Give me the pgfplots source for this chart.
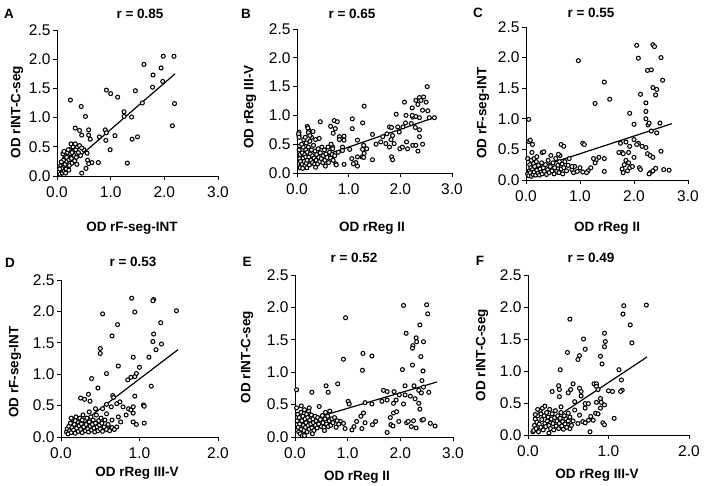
\documentclass[border=0pt]{standalone}
\usepackage{fontspec}
\setmainfont{Liberation Sans}
\usepackage{pgfplots}
\pgfplotsset{compat=1.18}
\pgfplotsset{
  panel/.style={
    scale only axis, anchor=south west, clip=false,
    axis x line=bottom, axis y line=left,
    axis line style={-, black, line width=0.9pt},
    tick align=outside, major tick length=4pt,
    tick style={black, line width=0.9pt},
    ymin=0, ymax=2.5, ytick={0,0.5,1,1.5,2,2.5},
    xmin=0,
    tick label style={font=\fontsize{15.5}{17}\selectfont},
    yticklabel style={xshift=1pt},
    xticklabel style={yshift=-3pt},
    /pgf/number format/fixed, /pgf/number format/fixed zerofill,
    /pgf/number format/precision=1, /pgf/number format/assume math mode=true,
  },
  pts/.style={only marks, mark=*, mark size=2.0pt,
    mark options={draw=black, fill=white, line width=1.05pt}},
  reg/.style={no marks, black, line width=1.2pt},
}
\newcommand{\lab}{\fontsize{13.5}{15}\selectfont\bfseries}
\begin{document}
\begin{tikzpicture}
\path[use as bounding box] (0pt,0pt) rectangle (706pt,486pt);
% ---------------- A
\begin{axis}[panel, at={(57pt,310pt)}, width=161pt, height=146pt, xmax=3, xtick={0,1,2,3}]
\addplot[pts] table {
1.98 2.05
2.18 2.05
1.62 1.91
1.94 1.85
1.79 1.73
1.97 1.62
1.78 1.52
1.59 1.25
2.19 1.24
2.15 0.86
1.46 1.46
0.92 1.47
1.00 1.41
1.13 1.35
0.25 1.30
0.45 1.19
0.53 1.02
1.25 1.10
1.25 1.02
1.39 1.01
1.40 0.63
1.50 0.67
1.08 0.69
0.99 0.45
0.91 0.61
0.90 0.79
0.92 0.74
1.31 0.22
0.79 0.67
0.59 0.79
0.34 0.82
0.42 0.78
0.59 0.70
0.46 0.70
0.62 0.63
0.56 0.39
0.57 0.27
0.65 0.23
0.77 0.23
0.59 0.21
0.54 0.13
0.46 0.05
0.50 0.45
0.06 0.03
0.08 0.10
0.10 0.05
0.07 0.18
0.12 0.15
0.10 0.22
0.13 0.08
0.15 0.20
0.14 0.30
0.17 0.12
0.18 0.25
0.20 0.35
0.19 0.40
0.22 0.28
0.23 0.18
0.25 0.38
0.24 0.45
0.27 0.30
0.28 0.22
0.30 0.42
0.30 0.50
0.32 0.35
0.33 0.26
0.35 0.45
0.36 0.32
0.38 0.50
0.40 0.40
0.42 0.52
0.44 0.35
0.46 0.48
0.15 0.35
0.12 0.27
0.09 0.13
0.21 0.45
0.26 0.55
0.11 0.38
0.16 0.05
0.18 0.32
0.28 0.40
0.34 0.55
0.37 0.20
0.22 0.10
0.08 0.24
0.05 0.12
0.13 0.42
};
\addplot[reg] coordinates {(0.10,0.08) (2.20,1.75)};
\end{axis}
% ---------------- B
\begin{axis}[panel, at={(297pt,313pt)}, width=155pt, height=144pt, xmax=3, xtick={0,1,2,3}]
\addplot[pts] table {
2.52 1.50
2.37 1.31
2.45 1.32
2.30 1.26
2.40 1.26
2.50 1.23
2.34 1.19
2.08 1.23
1.30 1.16
2.23 1.13
2.43 1.09
2.53 1.08
2.24 0.97
2.30 0.98
2.37 0.96
2.23 1.00
2.66 0.96
2.56 0.96
2.11 1.00
1.92 1.02
2.10 0.87
2.29 0.79
2.37 0.75
2.21 0.86
2.05 0.80
1.95 0.80
1.79 0.80
1.83 0.79
1.98 0.71
1.74 0.68
1.46 0.67
1.66 0.63
1.85 0.65
1.82 0.58
1.62 0.54
1.72 0.51
1.53 0.50
1.88 0.51
1.79 0.45
1.99 0.42
2.04 0.45
2.14 0.42
2.24 0.48
2.30 0.48
2.34 0.38
2.43 0.50
2.12 0.54
2.37 0.63
1.83 0.28
1.85 0.23
1.46 0.23
1.29 0.48
1.27 0.41
1.35 0.42
1.30 0.34
1.26 0.28
1.29 0.27
1.17 0.28
1.14 0.18
1.09 0.16
1.17 0.12
1.06 0.25
1.02 0.41
0.88 0.45
0.91 0.57
0.91 0.64
1.07 0.77
1.07 0.94
1.27 0.87
1.17 0.57
0.82 0.63
0.72 0.91
0.78 0.89
0.65 0.81
0.74 0.77
0.70 0.69
0.82 0.58
0.69 0.45
0.74 0.34
0.75 0.16
0.91 0.15
0.88 0.39
0.62 0.28
0.45 0.89
0.23 0.74
0.20 0.81
0.04 0.65
0.04 0.71
0.03 0.68
0.04 0.62
0.05 0.47
0.04 0.40
0.06 0.32
0.05 0.25
0.07 0.20
0.08 0.12
0.06 0.09
0.10 0.35
0.10 0.15
0.12 0.45
0.12 0.26
0.14 0.20
0.15 0.32
0.15 0.12
0.17 0.40
0.17 0.28
0.18 0.52
0.18 0.17
0.20 0.22
0.20 0.36
0.21 0.78
0.22 0.45
0.22 0.70
0.23 0.28
0.24 0.14
0.25 0.55
0.26 0.33
0.27 0.22
0.28 0.40
0.28 0.62
0.30 0.18
0.30 0.30
0.32 0.48
0.33 0.26
0.34 0.15
0.35 0.38
0.36 0.58
0.37 0.22
0.38 0.32
0.40 0.16
0.41 0.42
0.42 0.27
0.44 0.20
0.45 0.35
0.47 0.25
0.48 0.45
0.50 0.18
0.51 0.30
0.53 0.40
0.54 0.22
0.56 0.33
0.58 0.27
0.60 0.45
0.61 0.18
0.63 0.36
0.65 0.26
0.66 0.50
0.68 0.32
0.69 0.42
0.70 0.22
0.73 0.30
0.76 0.14
0.80 0.36
0.13 0.58
0.09 0.50
0.25 0.65
0.31 0.72
0.16 0.62
0.19 0.09
0.11 0.08
0.36 0.10
0.55 0.12
0.43 0.60
};
\addplot[reg] coordinates {(0.03,0.15) (2.65,0.96)};
\end{axis}
% ---------------- C
\begin{axis}[panel, at={(526pt,306pt)}, width=162pt, height=153pt, xmax=3, xtick={0,1,2,3}]
\addplot[pts] table {
0.97 1.95
1.45 1.60
1.28 1.25
1.55 1.32
2.05 2.20
2.08 1.99
2.12 1.40
2.35 2.21
2.38 2.18
2.32 1.80
2.25 1.79
2.50 2.00
2.53 1.63
2.35 1.51
2.42 1.48
2.40 1.39
2.22 1.26
2.22 1.12
2.22 1.00
2.26 0.90
2.28 0.93
1.92 1.09
2.00 0.91
2.48 0.93
2.42 0.77
2.32 0.80
2.08 0.60
2.00 0.66
2.05 0.58
1.92 0.55
2.15 0.55
2.22 0.53
2.25 0.43
2.30 0.40
2.35 0.37
2.50 0.47
2.00 0.37
1.90 0.45
1.78 0.45
1.72 0.45
1.75 0.60
1.85 0.62
1.80 0.43
1.85 0.32
1.82 0.25
1.90 0.28
1.78 0.18
1.80 0.12
1.88 0.15
1.92 0.20
1.97 0.22
2.10 0.20
2.12 0.17
2.30 0.12
2.35 0.15
2.40 0.19
2.55 0.17
2.65 0.16
2.28 0.10
1.45 0.14
1.45 0.35
1.35 0.37
1.30 0.33
1.28 0.28
1.25 0.35
1.20 0.20
1.15 0.15
1.12 0.12
1.05 0.13
1.00 0.20
0.95 0.14
0.90 0.22
0.85 0.17
1.05 0.60
1.08 0.58
0.65 0.58
0.70 0.55
0.30 0.45
0.05 0.99
0.05 0.63
0.08 0.65
0.12 0.58
0.03 0.35
0.03 0.10
0.05 0.07
0.06 0.15
0.07 0.25
0.08 0.12
0.09 0.20
0.10 0.06
0.10 0.32
0.12 0.17
0.13 0.09
0.14 0.27
0.15 0.13
0.16 0.22
0.18 0.08
0.19 0.30
0.20 0.16
0.22 0.11
0.23 0.24
0.25 0.08
0.26 0.18
0.28 0.13
0.29 0.28
0.30 0.10
0.32 0.20
0.33 0.46
0.34 0.14
0.36 0.25
0.38 0.09
0.40 0.17
0.41 0.32
0.43 0.12
0.45 0.22
0.46 0.40
0.48 0.15
0.50 0.28
0.52 0.10
0.53 0.20
0.55 0.35
0.57 0.14
0.59 0.24
0.61 0.12
0.62 0.30
0.63 0.40
0.65 0.18
0.67 0.26
0.68 0.10
0.70 0.20
0.72 0.30
0.75 0.15
0.78 0.24
0.80 0.35
0.85 0.22
0.88 0.12
0.60 0.42
0.15 0.35
0.20 0.38
0.11 0.45
};
\addplot[reg] coordinates {(0.05,0.155) (2.70,0.92)};
\end{axis}
% ---------------- D
\begin{axis}[panel, at={(61pt,49pt)}, width=157pt, height=157pt, xmax=2, xtick={0,1,2}]
\addplot[pts] table {
0.90 2.21
1.18 2.19
1.17 2.17
1.47 2.01
0.94 1.99
0.53 1.96
0.72 1.79
1.27 1.82
0.65 1.61
1.18 1.64
1.17 1.52
1.28 1.48
1.21 1.39
0.50 1.41
0.50 1.33
1.12 1.27
0.92 1.27
0.73 1.13
1.00 1.11
0.96 1.01
0.58 1.01
0.94 0.96
0.89 0.95
0.85 0.91
1.15 0.81
0.39 0.93
0.47 0.78
0.66 0.66
0.67 0.63
0.35 0.68
0.25 0.62
0.30 0.60
0.37 0.57
0.94 0.65
1.05 0.51
1.06 0.49
0.92 0.48
0.86 0.45
0.89 0.43
0.92 0.38
0.79 0.48
0.75 0.56
0.71 0.53
0.83 0.35
0.92 0.24
0.96 0.20
1.06 0.22
0.73 0.32
0.65 0.27
0.71 0.16
0.60 0.17
0.76 0.24
0.58 0.37
0.53 0.45
0.58 0.52
0.64 0.48
0.07 0.08
0.08 0.13
0.09 0.05
0.10 0.17
0.11 0.10
0.12 0.22
0.13 0.07
0.14 0.15
0.15 0.28
0.16 0.11
0.17 0.20
0.18 0.06
0.19 0.32
0.20 0.14
0.21 0.24
0.22 0.09
0.23 0.18
0.24 0.30
0.25 0.12
0.26 0.21
0.27 0.07
0.28 0.35
0.29 0.16
0.30 0.26
0.31 0.10
0.32 0.20
0.33 0.30
0.34 0.13
0.35 0.08
0.36 0.24
0.37 0.17
0.38 0.32
0.39 0.11
0.40 0.20
0.41 0.27
0.42 0.14
0.43 0.08
0.44 0.22
0.45 0.35
0.46 0.16
0.47 0.10
0.48 0.26
0.49 0.19
0.50 0.13
0.51 0.30
0.52 0.22
0.53 0.09
0.55 0.16
0.56 0.27
0.58 0.12
0.60 0.20
0.62 0.10
0.65 0.15
0.68 0.12
0.44 0.45
0.18 0.26
0.13 0.30
0.27 0.27
0.36 0.40
};
\addplot[reg] coordinates {(0.08,0.05) (1.49,1.39)};
\end{axis}
% ---------------- E
\begin{axis}[panel, at={(295pt,49pt)}, width=158pt, height=162pt, xmax=3, xtick={0,1,2,3}]
\addplot[pts] table {
2.50 2.04
2.06 2.03
2.52 1.90
0.96 1.84
2.11 1.60
2.37 1.73
2.30 1.53
2.31 1.47
2.24 1.41
2.23 1.37
2.44 1.47
2.39 1.24
1.29 1.29
1.46 1.25
0.92 1.20
1.28 1.03
2.23 1.11
2.04 1.04
2.43 1.02
2.41 0.87
0.03 0.73
0.32 0.69
0.59 0.79
0.63 0.69
0.81 0.82
2.09 0.79
2.26 0.79
1.88 0.70
1.68 0.72
1.75 0.70
1.98 0.65
2.09 0.65
2.19 0.63
2.35 0.72
2.40 0.68
2.54 0.69
2.44 0.77
1.75 0.57
1.65 0.55
1.92 0.57
1.87 0.52
2.06 0.51
2.28 0.59
2.35 0.52
2.37 0.43
1.01 0.55
1.03 0.51
1.33 0.53
1.46 0.51
1.53 0.24
1.47 0.19
1.75 0.07
1.81 0.30
1.87 0.37
1.93 0.39
1.97 0.24
1.82 0.19
1.86 0.17
2.12 0.22
2.15 0.24
2.21 0.16
2.30 0.14
2.41 0.26
2.44 0.27
2.57 0.21
2.66 0.17
2.25 0.25
1.30 0.37
1.25 0.32
1.33 0.22
1.27 0.13
1.12 0.16
1.08 0.11
1.17 0.24
0.95 0.13
0.92 0.21
0.86 0.24
0.03 0.45
0.05 0.35
0.04 0.25
0.06 0.15
0.07 0.08
0.08 0.30
0.09 0.20
0.10 0.05
0.11 0.38
0.12 0.12
0.13 0.25
0.14 0.02
0.15 0.32
0.16 0.18
0.17 0.10
0.18 0.42
0.19 0.28
0.20 0.15
0.21 0.22
0.22 0.35
0.23 0.08
0.24 0.30
0.25 0.18
0.26 0.40
0.27 0.12
0.28 0.26
0.30 0.20
0.31 0.34
0.32 0.14
0.34 0.28
0.35 0.22
0.36 0.10
0.38 0.32
0.39 0.18
0.40 0.25
0.42 0.14
0.43 0.30
0.45 0.20
0.46 0.47
0.48 0.27
0.50 0.16
0.52 0.33
0.53 0.22
0.55 0.15
0.57 0.28
0.58 0.38
0.60 0.20
0.62 0.32
0.63 0.16
0.65 0.25
0.66 0.40
0.68 0.18
0.70 0.28
0.72 0.22
0.75 0.30
0.78 0.15
0.80 0.25
0.83 0.20
0.33 0.05
0.12 0.48
0.56 0.10
0.27 0.45
0.18 0.02
};
\addplot[reg] coordinates {(0.03,0.21) (2.70,0.85)};
\end{axis}
% ---------------- F
\begin{axis}[panel, at={(528pt,51pt)}, width=161pt, height=160pt, xmax=2, xtick={0,1,2}]
\addplot[pts] table {
1.47 2.03
1.19 2.02
1.18 1.89
0.52 1.81
1.27 1.72
0.95 1.59
0.69 1.50
1.29 1.44
0.96 1.46
0.95 1.38
0.49 1.29
0.64 1.24
0.62 1.18
0.71 1.34
0.90 1.23
0.92 1.11
0.40 1.02
1.13 1.02
1.16 0.86
1.17 0.70
1.15 0.68
1.00 0.69
1.05 0.68
0.82 0.80
0.85 0.80
0.85 0.76
0.87 0.71
0.38 0.77
0.39 0.71
0.30 0.68
0.56 0.80
0.53 0.71
0.50 0.66
0.66 0.68
0.64 0.73
0.39 0.60
0.66 0.61
0.71 0.49
0.75 0.49
0.71 0.42
0.90 0.57
0.91 0.51
0.95 0.47
0.85 0.51
0.90 0.42
0.84 0.34
0.87 0.33
0.78 0.29
0.75 0.23
0.68 0.21
0.62 0.18
0.71 0.19
0.81 0.23
0.93 0.19
0.95 0.16
1.07 0.26
0.77 0.05
0.52 0.10
0.49 0.16
0.41 0.44
0.50 0.34
0.58 0.39
0.64 0.31
0.58 0.52
0.26 0.03
0.06 0.05
0.07 0.07
0.08 0.15
0.09 0.25
0.10 0.10
0.11 0.20
0.12 0.30
0.13 0.05
0.14 0.17
0.15 0.38
0.16 0.12
0.17 0.24
0.18 0.42
0.19 0.08
0.20 0.30
0.21 0.18
0.22 0.13
0.23 0.35
0.24 0.22
0.25 0.28
0.26 0.15
0.27 0.40
0.28 0.10
0.29 0.25
0.30 0.33
0.31 0.18
0.32 0.08
0.33 0.27
0.34 0.38
0.35 0.14
0.36 0.22
0.37 0.30
0.38 0.10
0.39 0.18
0.40 0.26
0.41 0.35
0.42 0.14
0.43 0.21
0.44 0.09
0.45 0.30
0.46 0.17
0.47 0.25
0.48 0.12
0.50 0.22
0.52 0.28
0.54 0.15
0.56 0.22
0.12 0.40
0.21 0.45
0.16 0.33
0.09 0.32
};
\addplot[reg] coordinates {(0.10,0.07) (1.48,1.22)};
\end{axis}
% ---------------- texts (y = 486 - pixel row)
\node[font=\lab] at (9pt,472pt) {A};
\node[font=\lab] at (246pt,472pt) {B};
\node[font=\lab] at (478pt,473pt) {C};
\node[font=\lab] at (10pt,223pt) {D};
\node[font=\lab] at (247pt,224pt) {E};
\node[font=\lab] at (480pt,225pt) {F};
\node[font=\lab] at (140pt,472pt) {r = 0.85};
\node[font=\lab] at (352pt,472pt) {r = 0.65};
\node[font=\lab] at (591pt,473pt) {r = 0.55};
\node[font=\lab] at (133pt,224pt) {r = 0.53};
\node[font=\lab] at (354pt,228pt) {r = 0.52};
\node[font=\lab] at (591pt,228pt) {r = 0.49};
\node[font=\lab] at (132pt,258pt) {OD rF-seg-INT};
\node[font=\lab] at (372pt,258pt) {OD rReg II};
\node[font=\lab] at (607pt,258pt) {OD rReg II};
\node[font=\lab] at (137pt,13pt) {OD rReg III-V};
\node[font=\lab] at (357pt,9pt) {OD rReg II};
\node[font=\lab] at (597pt,11pt) {OD rReg III-V};
\node[font=\lab, rotate=90] at (17pt,374pt) {OD rINT-C-seg};
\node[font=\lab, rotate=90] at (250pt,379pt) {OD rReg III-V};
\node[font=\lab, rotate=90] at (483pt,373pt) {OD rF-seg-INT};
\node[font=\lab, rotate=90] at (15pt,114pt) {OD rF-seg-INT};
\node[font=\lab, rotate=90] at (247pt,129pt) {OD rINT-C-seg};
\node[font=\lab, rotate=90] at (482pt,131pt) {OD rINT-C-seg};
\end{tikzpicture}
\end{document}
